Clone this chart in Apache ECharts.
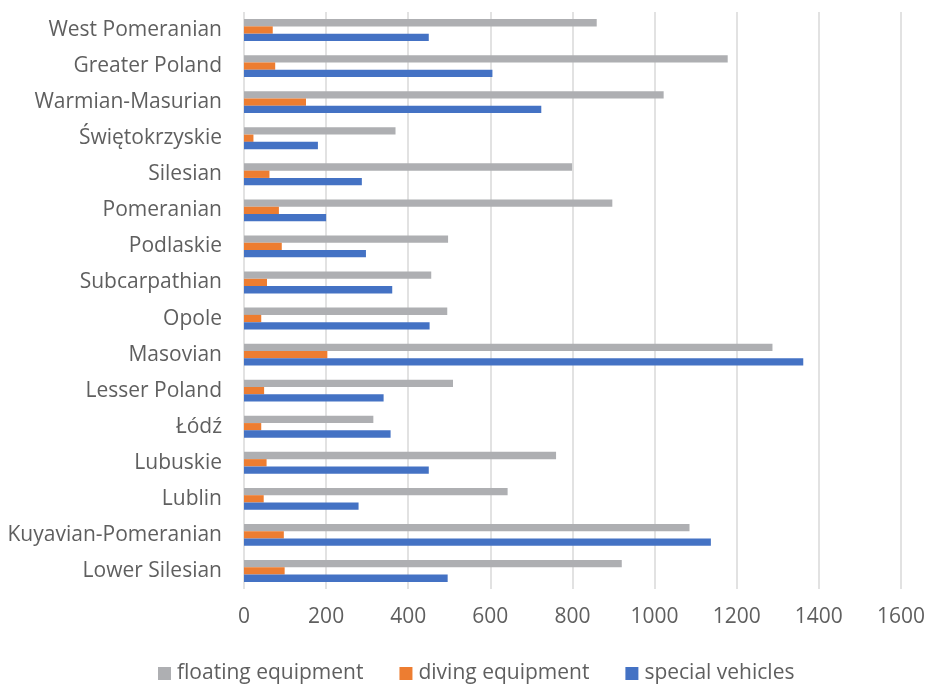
<!DOCTYPE html>
<html>
<head>
<meta charset="utf-8">
<script src="https://cdn.jsdelivr.net/npm/echarts@6/dist/echarts.min.js"></script>
<style>html,body{margin:0;padding:0;background:#fff;}#c{width:928px;height:686px;}</style>
</head>
<body>
<div id="c"></div>
<script>
var categories = ["Lower Silesian","Kuyavian-Pomeranian","Lublin","Lubuskie","Łódź","Lesser Poland","Masovian","Opole","Subcarpathian","Podlaskie","Pomeranian","Silesian","Świętokrzyskie","Warmian-Masurian","Greater Poland","West Pomeranian"];
var floatingEquipment = [920, 1085, 642, 760, 315, 509, 1287, 495, 456, 497, 897, 799, 369, 1022, 1178, 859];
var divingEquipment = [99, 97, 48, 55, 42, 49, 203, 42, 56, 92, 85, 62, 23, 151, 76, 70];
var specialVehicles = [496, 1137, 279, 450, 357, 340, 1362, 452, 361, 297, 200, 287, 180, 724, 605, 450];
var xTicks = {min: 0, max: 1600, interval: 200};

var FONT = "Open Sans";
var TXT = "#5f5f5f";
var chart = echarts.init(document.getElementById('c'), null, {renderer: 'canvas'});
chart.setOption({
  animation: false,
  backgroundColor: '#fff',
  textStyle: {fontFamily: FONT},
  grid: {left: 244, right: 27, top: 12, bottom: 97, containLabel: false},
  legend: {
    top: 658, left: 153,
    itemWidth: 13, itemHeight: 13, itemGap: 36,
    icon: 'rect',
    textStyle: {fontFamily: FONT, fontSize: 21, color: TXT, padding: [0,0,0,1]},
    data: ['floating equipment', 'diving equipment', 'special vehicles']
  },
  xAxis: {
    type: 'value', min: xTicks.min, max: xTicks.max, interval: xTicks.interval,
    axisLine: {show: false}, axisTick: {show: false},
    axisLabel: {fontFamily: FONT, fontSize: 21, color: TXT, margin: 18, formatter: function (v) { return String(v); }},
    splitLine: {show: true, lineStyle: {color: '#d9d9d9', width: 1.5}}
  },
  yAxis: {
    type: 'category', data: categories,
    axisLine: {show: false}, axisTick: {show: false},
    axisLabel: {fontFamily: FONT, fontSize: 21, color: TXT, margin: 22}
  },
  series: [
    {name: 'floating equipment', type: 'bar', data: floatingEquipment, itemStyle: {color: '#AEAFB2'}, barWidth: 7.3, barGap: '0%'},
    {name: 'diving equipment', type: 'bar', data: divingEquipment, itemStyle: {color: '#ED7D31'}, barWidth: 7.3, barGap: '0%'},
    {name: 'special vehicles', type: 'bar', data: specialVehicles, itemStyle: {color: '#4472C4'}, barWidth: 7.3, barGap: '0%'}
  ]
});
</script>
</body>
</html>
